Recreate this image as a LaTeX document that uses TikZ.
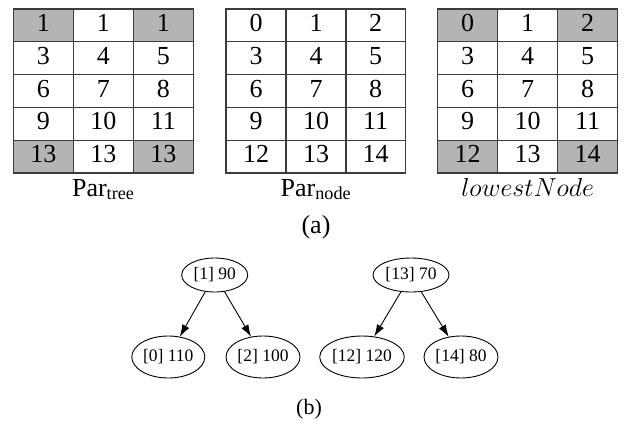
\RequirePackage{fix-cm}
\documentclass[tikz,border=0pt]{standalone}
\usepackage{fontspec}
\setmainfont{Liberation Serif}
\usetikzlibrary{shapes.geometric,arrows.meta}
\definecolor{cellgray}{RGB}{180,180,180}
\definecolor{gridline}{RGB}{60,60,60}
\tikzset{
  cell/.style={draw=gridline,line width=1.2pt,minimum width=60pt,minimum height=32.8pt,inner sep=0pt,
    text depth=5pt,font=\fontsize{26}{30}\selectfont},
  shaded/.style={cell,fill=cellgray},
  caption/.style={anchor=base,inner sep=0pt,font=\fontsize{26}{30}\selectfont},
  tnode/.style={draw,ellipse,line width=0.9pt,inner sep=0pt,font=\fontsize{17.5}{20}\selectfont},
  tedge/.style={line width=0.9pt,-{Latex[length=12pt,width=8pt]}},
}
\begin{document}
\begin{tikzpicture}[x=1pt,y=-1pt]
\useasboundingbox (0,0) rectangle (628,423);
% table 1: Par_tree
\foreach \r/\a/\b/\c/\s in {1/1/1/1/shaded,2/3/4/5/cell,3/6/7/8/cell,4/9/10/11/cell,5/13/13/13/shaded}{
  \node[\s] (ta\r a) at (43.3,{9+32.8*(\r-0.5)}) {\a};
  \node[cell] (ta\r b) at (103.3,{9+32.8*(\r-0.5)}) {\b};
  \node[\s] (ta\r c) at (163.3,{9+32.8*(\r-0.5)}) {\c};
}
% table 2: Par_node
\foreach \r/\a/\b/\c in {1/0/1/2,2/3/4/5,3/6/7/8,4/9/10/11,5/12/13/14}{
  \node[cell] (tb\r a) at (256,{9+32.8*(\r-0.5)}) {\a};
  \node[cell] (tb\r b) at (316,{9+32.8*(\r-0.5)}) {\b};
  \node[cell] (tb\r c) at (375.7,{9+32.8*(\r-0.5)}) {\c};
}
% table 3: lowestNode
\foreach \r/\a/\b/\c/\s in {1/0/1/2/shaded,2/3/4/5/cell,3/6/7/8/cell,4/9/10/11/cell,5/12/13/14/shaded}{
  \node[\s] (tc\r a) at (467.7,{9+32.8*(\r-0.5)}) {\a};
  \node[cell] (tc\r b) at (527.7,{9+32.8*(\r-0.5)}) {\b};
  \node[\s] (tc\r c) at (587.7,{9+32.8*(\r-0.5)}) {\c};
}
\node[caption] (lab1) at (103.3,196) {Par\textsubscript{tree}};
\node[caption] (lab2) at (316,196) {Par\textsubscript{node}};
\node[caption] (lab3) at (527.7,196) {$lowestNode$};
\node[caption] (capa) at (316,233) {(a)};
% trees
\node[tnode,minimum width=66pt,minimum height=34pt] (p1) at (214.7,275) {[1] 90};
\node[tnode,minimum width=76pt,minimum height=34pt] (p2) at (411,275) {[13] 70};
\node[tnode,minimum width=73pt,minimum height=42pt] (c1) at (168.3,357) {[0] 110};
\node[tnode,minimum width=74pt,minimum height=42pt] (c2) at (263,357) {[2] 100};
\node[tnode,minimum width=82pt,minimum height=42pt] (c3) at (362,357) {[12] 120};
\node[tnode,minimum width=74pt,minimum height=42pt] (c4) at (461,357) {[14] 80};
\draw[tedge] (p1) -- (c1);
\draw[tedge] (p1) -- (c2);
\draw[tedge] (p2) -- (c3);
\draw[tedge] (p2) -- (c4);
\node[caption,font=\fontsize{22}{26}\selectfont] (capb) at (309,414) {(b)};
\end{tikzpicture}
\end{document}
